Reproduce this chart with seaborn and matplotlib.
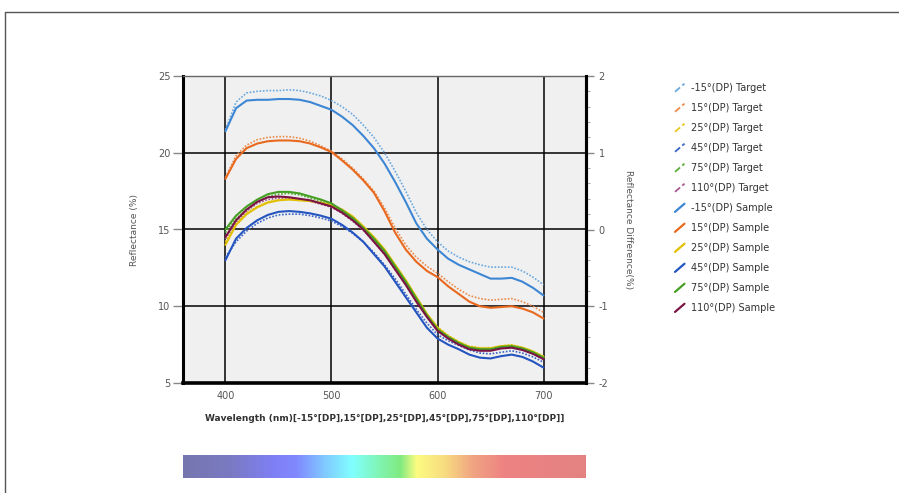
import numpy as np
import pandas as pd
import seaborn as sns
import matplotlib.pyplot as plt
from matplotlib.lines import Line2D
from matplotlib.legend_handler import HandlerBase
from matplotlib.colors import LinearSegmentedColormap
from matplotlib.ticker import MultipleLocator

wavelength = list(range(400, 701, 10))

# reflectance (%), 400..700 nm every 10 nm
m15_target = [21.5, 23.3, 23.9, 24.0, 24.05, 24.05, 24.1, 24.05, 23.9, 23.7, 23.4, 23.0, 22.5, 21.8, 21.0, 20.0,
              18.8, 17.5, 16.1, 15.0, 14.2, 13.6, 13.2, 12.9, 12.7, 12.55, 12.55, 12.55, 12.3, 11.9, 11.4]
p15_target = [18.4, 19.8, 20.5, 20.85, 21.0, 21.05, 21.05, 20.95, 20.75, 20.45, 20.1, 19.6, 19.0, 18.3, 17.5, 16.4,
              15.1, 14.0, 13.2, 12.6, 12.15, 11.6, 11.1, 10.7, 10.5, 10.4, 10.45, 10.5, 10.3, 10.0, 9.6]
p25_target = [14.2, 15.4, 16.1, 16.5, 16.8, 16.95, 17.0, 16.95, 16.85, 16.7, 16.5, 16.15, 15.7, 15.1, 14.4, 13.6,
              12.6, 11.6, 10.55, 9.5, 8.65, 8.1, 7.7, 7.4, 7.3, 7.3, 7.42, 7.48, 7.32, 7.08, 6.75]
p45_target = [13.2, 14.2, 14.9, 15.4, 15.75, 15.95, 16.0, 16.0, 15.9, 15.75, 15.55, 15.2, 14.75, 14.2, 13.5, 12.7,
              11.8, 10.8, 9.8, 8.9, 8.15, 7.75, 7.45, 7.15, 6.95, 6.9, 7.0, 7.1, 6.95, 6.7, 6.35]
p75_target = [14.8, 15.7, 16.3, 16.8, 17.15, 17.3, 17.35, 17.25, 17.05, 16.85, 16.6, 16.2, 15.7, 15.05, 14.35, 13.55,
              12.55, 11.55, 10.5, 9.45, 8.55, 8.05, 7.65, 7.35, 7.25, 7.25, 7.38, 7.42, 7.28, 7.02, 6.68]
p110_target = [14.4, 15.5, 16.2, 16.7, 16.95, 17.05, 17.05, 16.95, 16.85, 16.65, 16.45, 16.05, 15.55, 14.95, 14.2,
               13.4, 12.4, 11.4, 10.35, 9.35, 8.45, 7.95, 7.55, 7.25, 7.15, 7.15, 7.28, 7.33, 7.18, 6.92, 6.58]

m15_sample = [21.4, 22.9, 23.4, 23.45, 23.45, 23.5, 23.5, 23.45, 23.3, 23.05, 22.8, 22.35, 21.8, 21.1, 20.3, 19.3,
              18.1, 16.8, 15.4, 14.4, 13.7, 13.1, 12.7, 12.4, 12.1, 11.8, 11.8, 11.85, 11.6, 11.2, 10.7]
p15_sample = [18.3, 19.6, 20.3, 20.6, 20.75, 20.8, 20.8, 20.75, 20.6, 20.35, 20.05, 19.5, 18.9, 18.2, 17.4, 16.2,
              14.8, 13.7, 12.9, 12.3, 11.9, 11.3, 10.8, 10.3, 10.0, 9.9, 9.95, 10.0, 9.85, 9.6, 9.2]
p25_sample = [14.0, 15.3, 16.0, 16.45, 16.75, 16.9, 16.95, 16.9, 16.85, 16.75, 16.6, 16.3, 15.85, 15.2, 14.5, 13.7,
              12.7, 11.7, 10.6, 9.5, 8.6, 8.05, 7.65, 7.35, 7.25, 7.25, 7.4, 7.45, 7.3, 7.05, 6.7]
p45_sample = [13.0, 14.4, 15.1, 15.6, 15.95, 16.15, 16.2, 16.15, 16.05, 15.9, 15.7, 15.3, 14.8, 14.2, 13.4, 12.6,
              11.6, 10.6, 9.6, 8.6, 7.9, 7.5, 7.2, 6.85, 6.65, 6.6, 6.75, 6.85, 6.7, 6.4, 6.0]
p75_sample = [15.0, 15.9, 16.5, 16.95, 17.3, 17.45, 17.45, 17.35, 17.15, 16.95, 16.7, 16.25, 15.75, 15.1, 14.4, 13.6,
              12.6, 11.6, 10.5, 9.4, 8.5, 8.0, 7.6, 7.3, 7.2, 7.2, 7.35, 7.4, 7.25, 7.0, 6.65]
p110_sample = [14.5, 15.6, 16.3, 16.8, 17.1, 17.15, 17.1, 17.0, 16.9, 16.7, 16.5, 16.1, 15.6, 15.0, 14.2, 13.4,
               12.4, 11.4, 10.3, 9.3, 8.4, 7.9, 7.5, 7.2, 7.1, 7.1, 7.25, 7.3, 7.15, 6.9, 6.55]

angles = ["-15°(DP)", "15°(DP)", "25°(DP)", "45°(DP)", "75°(DP)", "110°(DP)"]
targets = [m15_target, p15_target, p25_target, p45_target, p75_target, p110_target]
samples = [m15_sample, p15_sample, p25_sample, p45_sample, p75_sample, p110_sample]
target_colors = ["#6aa8e0", "#ec8a4a", "#e8c81a", "#3a64c4", "#5cae3c", "#a85890"]
sample_colors = ["#3d86d4", "#e8691e", "#e0c000", "#2454c0", "#45a022", "#7a1444"]

xlabel = "Wavelength (nm)[-15°[DP],15°[DP],25°[DP],45°[DP],75°[DP],110°[DP]]"

# spectrum strip under the chart
spectrum = ["#7676ae", "#7a7ac4", "#7f7ff4", "#8088ff", "#80c8ff", "#80ffff", "#80f4b0", "#80ea80",
            "#fcfc80", "#f8dc80", "#f0a482", "#ee8282", "#e48282"]
spectrum_pos = [0.0, 0.12, 0.22, 0.28, 0.35, 0.42, 0.49, 0.54, 0.58, 0.65, 0.72, 0.8, 1.0]


class DiagonalHandler(HandlerBase):
    """Legend key drawn as a short slanted stroke."""

    def create_artists(self, legend, orig_handle, xdescent, ydescent, width, height, fontsize, trans):
        x0, x1 = -xdescent + 0.1 * width, -xdescent + 0.85 * width
        y0, y1 = -ydescent - 0.15 * height, -ydescent + 1.05 * height
        line = Line2D([x0, x1], [y0, y1], color=orig_handle.get_color(),
                      linestyle=orig_handle.get_linestyle(), linewidth=orig_handle.get_linewidth(),
                      transform=trans)
        return [line]


sns.set_style("white")
plt.rcParams["font.family"] = ["DejaVu Sans"]
plt.rcParams["axes.unicode_minus"] = False

fig = plt.figure(figsize=(8.99, 4.93), dpi=100)
ax = fig.add_axes([183 / 899, 1 - 383 / 493, 403 / 899, 307 / 493])
ax.set_facecolor("#f0f0f0")

frames = []
for name, t, s in zip(angles, targets, samples):
    frames.append(pd.DataFrame({"wavelength": wavelength, "value": t, "label": f"{name} Target"}))
    frames.append(pd.DataFrame({"wavelength": wavelength, "value": s, "label": f"{name} Sample"}))
df = pd.concat(frames, ignore_index=True)

handles = []
for i, name in enumerate(angles):
    sub = df[df["label"] == f"{name} Target"]
    sns.lineplot(data=sub, x="wavelength", y="value", ax=ax, color=target_colors[i],
                 linewidth=1.2, linestyle=(0, (1, 1)), zorder=3)
    handles.append(Line2D([], [], color=target_colors[i], linewidth=1.3, linestyle=(0, (1.5, 0.8))))
for i, name in enumerate(angles):
    sub = df[df["label"] == f"{name} Sample"]
    sns.lineplot(data=sub, x="wavelength", y="value", ax=ax, color=sample_colors[i],
                 linewidth=1.5, zorder=4)
    handles.append(Line2D([], [], color=sample_colors[i], linewidth=1.6))
labels = [f"{a} Target" for a in angles] + [f"{a} Sample" for a in angles]

ax.set_xlim(360, 740)
ax.set_ylim(5, 25)
ax.set_xticks([400, 500, 600, 700])
ax.set_yticks([5, 10, 15, 20, 25])
ax.grid(True, color="black", linewidth=1.1, zorder=1)
ax.set_axisbelow(True)
ax.tick_params(axis="y", direction="out", length=7, width=1, color="#888888",
               labelsize=7, labelcolor="#555555", pad=2)
ax.tick_params(axis="x", length=0, labelsize=7, labelcolor="#555555", pad=6)
ax.set_xlabel(xlabel, fontsize=6.5, color="#333333", fontweight="semibold", labelpad=9)
ax.set_ylabel("Reflectance (%)", fontsize=6.5, color="#555555", labelpad=14)
for side, lw, col in [("left", 2.2, "black"), ("bottom", 2.6, "black"),
                      ("right", 2.2, "black"), ("top", 1.0, "#666666")]:
    ax.spines[side].set_linewidth(lw)
    ax.spines[side].set_color(col)

ax2 = ax.twinx()
ax2.set_ylim(-2, 2)
ax2.set_yticks([-2, -1, 0, 1, 2])
ax2.yaxis.set_minor_locator(MultipleLocator(0.2))
ax2.tick_params(axis="y", which="major", length=6, width=1, color="#888888",
                labelsize=7, labelcolor="#555555", pad=3)
ax2.tick_params(axis="y", which="minor", length=3, width=0.8, color="#aaaaaa")
ax2.set_ylabel("Reflectance Difference(%)", fontsize=6.5, color="#555555", rotation=270, labelpad=18)
ax2.spines["right"].set_linewidth(2.2)
ax2.spines["right"].set_color("black")
for side in ["left", "top", "bottom"]:
    ax2.spines[side].set_visible(False)

fig.legend(handles, labels, handler_map={Line2D: DiagonalHandler()}, loc="upper left",
           bbox_to_anchor=(665 / 899, 1 - 74 / 493), frameon=False, fontsize=7,
           labelcolor="#333333", handlelength=1.3, handletextpad=0.5, labelspacing=1.03)

# spectrum strip
cax = fig.add_axes([183 / 899, 1 - 478 / 493, 403 / 899, 23 / 493])
cmap = LinearSegmentedColormap.from_list("spec", list(zip(spectrum_pos, spectrum)))
cax.imshow(np.linspace(0, 1, 512)[None, :], aspect="auto", cmap=cmap)
cax.set_axis_off()

# outer frame (top and left edge)
fig.add_artist(Line2D([5 / 899, 1], [1 - 11.5 / 493, 1 - 11.5 / 493], color="#555555", linewidth=1.0))
fig.add_artist(Line2D([5 / 899, 5 / 899], [0, 1 - 11.5 / 493], color="#555555", linewidth=1.0))

fig.savefig("out.png", dpi=100, facecolor="white")
